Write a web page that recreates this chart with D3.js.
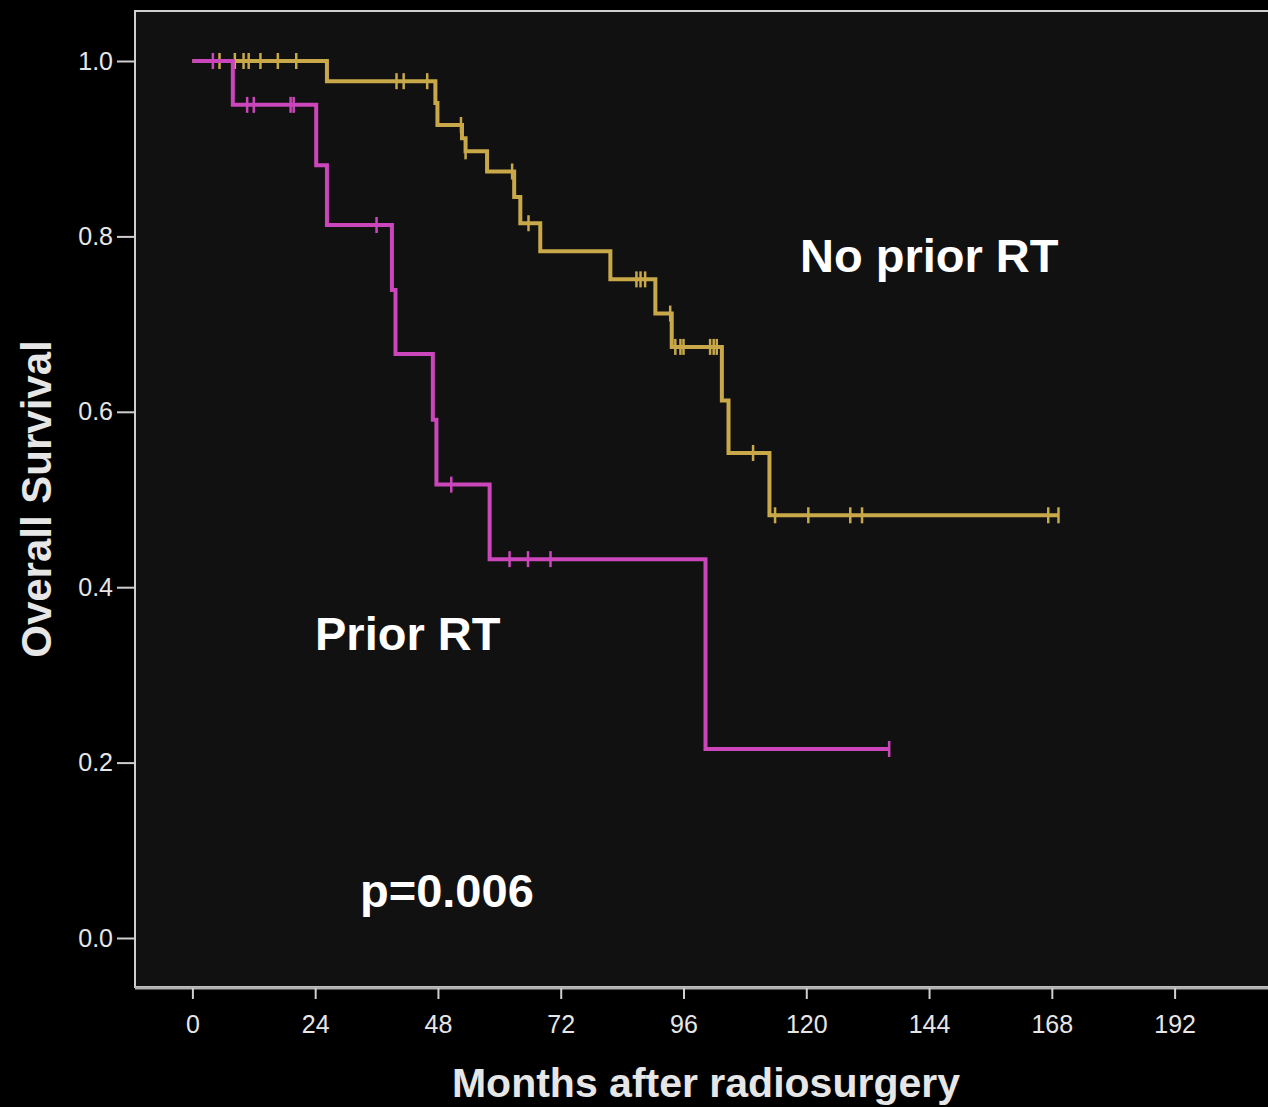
<html>
    <head>
        <meta charset="utf-8">
    </head>
<script src='https://d3js.org/d3.v7.min.js'></script>

<style>
    body,html{
        margin: 0;
        padding: 0;
        background-color: #000;
        font-family: "Liberation Sans", Arial, sans-serif;
    }
    #my_dataviz text { fill: #e6e6e6; }
</style>
    <body>
        <div id="my_dataviz"></div>
<script>

// tick labels
var xTicks = [0, 24, 48, 72, 96, 120, 144, 168, 192];
var yTicks = [0.0, 0.2, 0.4, 0.6, 0.8, 1.0];

// Prior RT: event times (months) and survival after each step
var priorTimes = [0, 7.9, 24.2, 26.3, 39.0, 39.7, 47.0, 47.7, 58.1, 100.3, 136.2];
var priorSurv  = [1.0, 0.950, 0.881, 0.813, 0.739, 0.666, 0.591, 0.517, 0.432, 0.2155, 0.2155];
var priorCensor = [4.0, 10.7, 12.0, 19.2, 19.8, 36.0, 50.6, 62.0, 65.6, 70.0, 136.2];

// No prior RT
var noPriorTimes = [0, 26.3, 47.5, 47.9, 52.7, 53.4, 57.6, 62.9, 64.1, 68.0, 81.7, 90.5, 93.7, 103.5, 104.8, 112.8, 169.3];
var noPriorSurv  = [1.0, 0.977, 0.952, 0.927, 0.912, 0.897, 0.874, 0.845, 0.815, 0.783, 0.751, 0.712, 0.674, 0.613, 0.553, 0.482, 0.482];
var noPriorCensor = [5.3, 8.3, 10.0, 11.0, 13.3, 16.7, 20.3, 39.9, 41.3, 45.9, 52.5, 53.4, 62.5, 65.7,
                     86.8, 87.6, 88.5, 93.4, 94.4, 95.4, 96.0, 101.2, 101.9, 102.5, 109.6, 113.9,
                     120.4, 128.6, 130.9, 167.3, 169.3];

var w = 1268;
var h = 1107;

var svg = d3.select("#my_dataviz")
    .append("svg")
        .attr("width", w)
        .attr("height", h);

// plot area
var plotLeft = 135, plotTop = 11, plotBottom = 987;

svg.append("rect")
    .attr("x", plotLeft)
    .attr("y", plotTop)
    .attr("width", w - plotLeft + 10)
    .attr("height", plotBottom - plotTop)
    .style("fill", "#111111")
    .style("stroke", "#cfcfcf")
    .style("stroke-width", 2);

svg.append("line")
    .attr("x1", plotLeft).attr("x2", w)
    .attr("y1", plotBottom + 1).attr("y2", plotBottom + 1)
    .style("stroke", "#b0b0b0")
    .style("stroke-width", 3);

var x = d3.scaleLinear()
    .domain([0, 192])
    .range([192.4, 1174.6]);

var y = d3.scaleLinear()
    .domain([0, 1])
    .range([938, 61]);

// Y axis
var yAxis = svg.append("g")
    .attr("transform", "translate(" + plotLeft + ",0)")
    .call(d3.axisLeft(y).tickValues(yTicks).tickFormat(d3.format(".1f")).tickSize(18).tickPadding(4));
yAxis.select(".domain").remove();
yAxis.selectAll("line").style("stroke", "#cfcfcf").style("stroke-width", 2);
yAxis.selectAll("text").style("font-size", "25px").style("font-family", "Liberation Sans, Arial");

// X axis
var xAxis = svg.append("g")
    .attr("transform", "translate(0," + (plotBottom + 1) + ")")
    .call(d3.axisBottom(x).tickValues(xTicks).tickSize(11).tickPadding(16));
xAxis.select(".domain").remove();
xAxis.selectAll("line").style("stroke", "#cfcfcf").style("stroke-width", 2);
xAxis.selectAll("text").style("font-size", "25px").style("font-family", "Liberation Sans, Arial");

// survival curves
function survAt(times, surv, t) {
    var s = surv[0];
    for (var i = 0; i < times.length; i++) {
        if (times[i] <= t) s = surv[i];
    }
    return s;
}

function drawCurve(times, surv, censor, color) {
    var pts = times.map(function(t, i) { return [t, surv[i]]; });
    var line = d3.line()
        .x(function(d) { return x(d[0]); })
        .y(function(d) { return y(d[1]); })
        .curve(d3.curveStepAfter);

    svg.append("path")
        .datum(pts)
        .attr("d", line)
        .style("fill", "none")
        .style("stroke", color)
        .style("stroke-width", 4);

    svg.append("g")
        .selectAll("line")
        .data(censor)
        .enter()
        .append("line")
        .attr("x1", function(d) { return x(d); })
        .attr("x2", function(d) { return x(d); })
        .attr("y1", function(d) { return y(survAt(times, surv, d)) - 8; })
        .attr("y2", function(d) { return y(survAt(times, surv, d)) + 8; })
        .style("stroke", color)
        .style("stroke-width", 2.5);
}

drawCurve(noPriorTimes, noPriorSurv, noPriorCensor, "#c9a84a");
drawCurve(priorTimes, priorSurv, priorCensor, "#cc46bb");

// annotations
svg.append("text")
    .attr("x", 800).attr("y", 272)
    .style("font-size", "47px").style("font-weight", "bold").style("fill", "#fff")
    .text("No prior RT");

svg.append("text")
    .attr("x", 315).attr("y", 650)
    .style("font-size", "47px").style("font-weight", "bold").style("fill", "#fff")
    .text("Prior RT");

svg.append("text")
    .attr("x", 360).attr("y", 907)
    .style("font-size", "47px").style("font-weight", "bold").style("fill", "#fff")
    .text("p=0.006");

// axis titles
svg.append("text")
    .attr("text-anchor", "middle")
    .attr("x", 706).attr("y", 1097)
    .style("font-size", "41px").style("font-weight", "bold")
    .text("Months after radiosurgery");

svg.append("text")
    .attr("text-anchor", "middle")
    .attr("transform", "translate(51,499) rotate(-90)")
    .style("font-size", "42px").style("font-weight", "bold")
    .text("Overall Survival");

</script>
    </body>
</html>
